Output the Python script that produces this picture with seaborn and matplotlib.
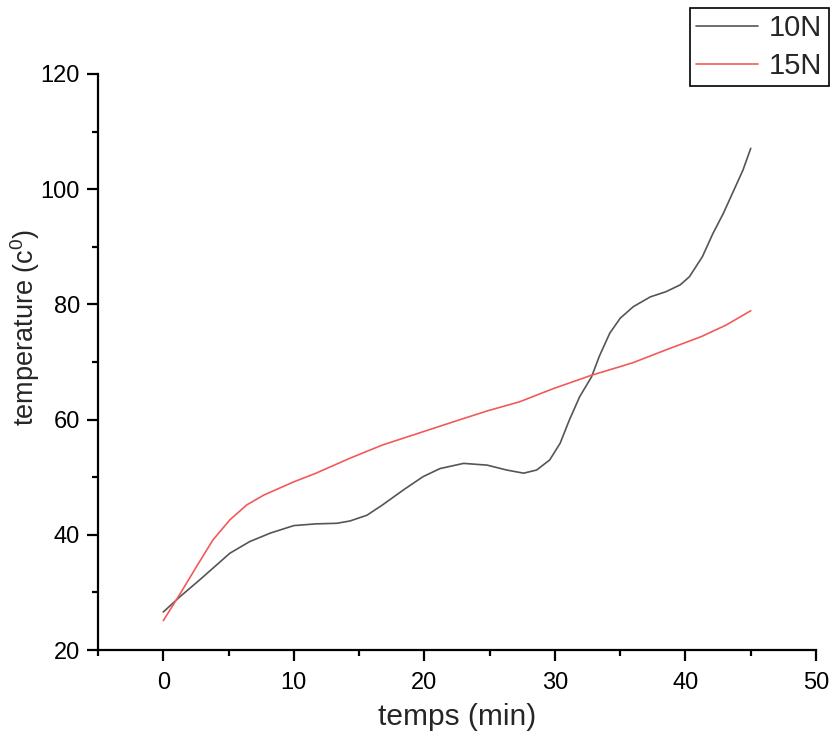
import matplotlib
matplotlib.use("Agg")
import matplotlib.pyplot as plt
import seaborn as sns
from matplotlib.ticker import MultipleLocator

# values
t_10n = [0, 1.3, 2.8, 4.1, 5.1, 6.6, 8.2, 10, 11.7, 13.3, 14.3, 15.6, 16.8, 18.4,
         19.9, 21.2, 23.0, 24.8, 26.3, 27.6, 28.6, 29.6, 30.4, 31.1, 31.9, 32.8,
         33.4, 34.2, 35.0, 36.0, 37.3, 38.5, 39.6, 40.3, 41.3, 42.1, 42.9, 43.6,
         44.4, 45]
temp_10n = [26.6, 29.3, 32.2, 34.8, 36.8, 38.8, 40.3, 41.6, 41.9, 42.0, 42.4, 43.4,
            45.2, 47.8, 50.1, 51.5, 52.4, 52.1, 51.25, 50.7, 51.25, 53.0, 55.9, 59.9,
            64.0, 67.4, 71.0, 75.0, 77.6, 79.6, 81.3, 82.2, 83.4, 84.8, 88.3, 92.3,
            95.8, 99.3, 103.3, 107.1]

t_15n = [0, 1.3, 2.55, 3.8, 5.1, 6.4, 7.7, 10, 11.7, 14.3, 16.8, 19.5, 22.2, 24.8,
         27.3, 29.9, 32.8, 35, 36.0, 38.5, 41.2, 43.1, 45]
temp_15n = [25.1, 29.8, 34.5, 39.1, 42.6, 45.2, 46.9, 49.2, 50.7, 53.3, 55.6, 57.6,
            59.6, 61.5, 63.1, 65.4, 67.7, 69.2, 69.9, 72.1, 74.4, 76.4, 78.9]

sns.set_style("ticks")
plt.rcParams["font.family"] = ["Liberation Sans", "DejaVu Sans"]
plt.rcParams["mathtext.fontset"] = "custom"
plt.rcParams["mathtext.rm"] = "Liberation Sans"

fig = plt.figure(figsize=(8.32, 7.40), dpi=100)
ax = fig.add_axes([0.1178, 0.1216, 0.863, 0.7784])

sns.lineplot(x=t_10n, y=temp_10n, ax=ax, color="#555555", linewidth=1.2, label="10N")
sns.lineplot(x=t_15n, y=temp_15n, ax=ax, color="#f25a5a", linewidth=1.2, label="15N")

ax.set_xlim(-5, 50)
ax.set_ylim(20, 120)
ax.xaxis.set_major_locator(MultipleLocator(10))
ax.xaxis.set_minor_locator(MultipleLocator(5))
ax.yaxis.set_major_locator(MultipleLocator(20))
ax.yaxis.set_minor_locator(MultipleLocator(10))

sns.despine(ax=ax)
for s in ["left", "bottom"]:
    ax.spines[s].set_linewidth(1.6)
    ax.spines[s].set_color("black")

ax.tick_params(axis="both", which="major", length=8, width=1.6, labelsize=17, colors="black")
ax.tick_params(axis="both", which="minor", length=4.5, width=1.6, colors="black")
ax.tick_params(axis="x", which="major", pad=8)
ax.tick_params(axis="y", which="major", pad=5)

ax.set_xlabel("temps (min)", fontsize=21.5, labelpad=6)
ax.set_ylabel("temperature (c$^{0}$)", fontsize=19.5)
ax.yaxis.set_label_coords(-0.078, 0.56)

leg = ax.legend(loc="upper right", bbox_to_anchor=(829 / 832, 1 - 8 / 740),
                bbox_transform=fig.transFigure, fontsize=21, frameon=True,
                fancybox=False, handlelength=2.1, handletextpad=0.4,
                borderpad=0.22, labelspacing=0.32, borderaxespad=0)
leg.get_frame().set_edgecolor("black")
leg.get_frame().set_linewidth(1.2)
leg.get_frame().set_alpha(1)

fig.savefig("out.png", dpi=100)
